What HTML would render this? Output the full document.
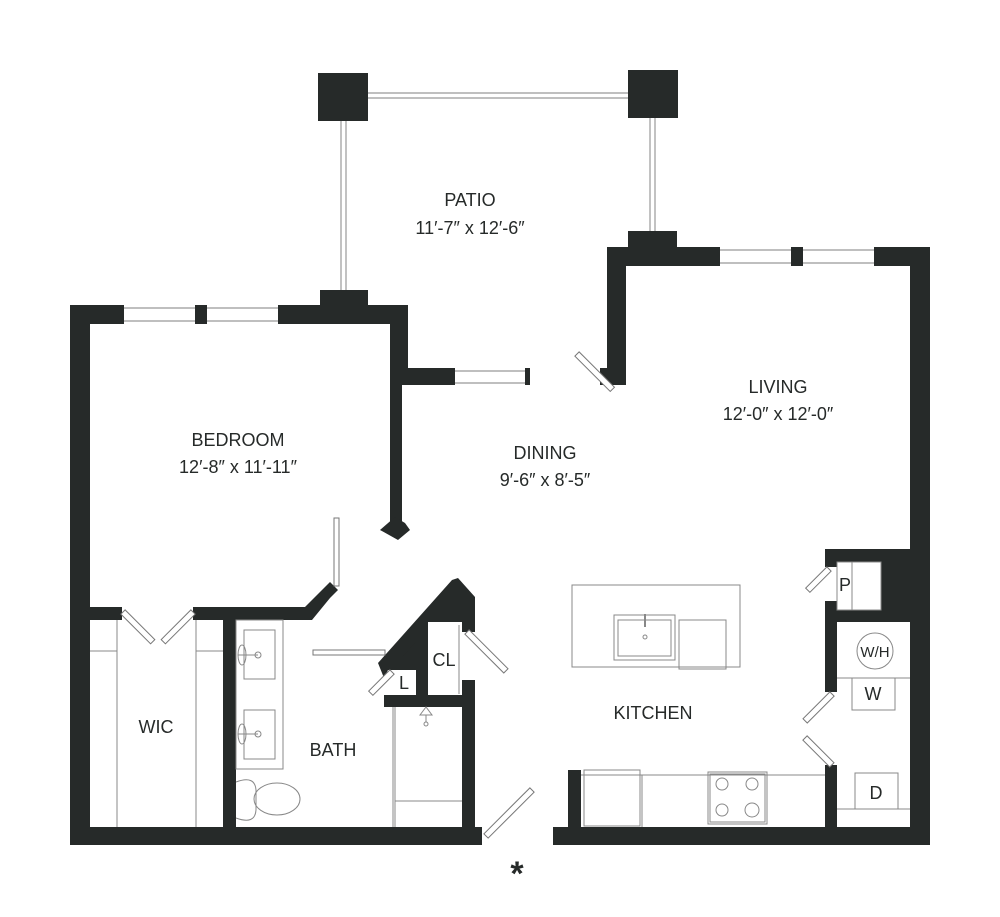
<!DOCTYPE html>
<html><head><meta charset="utf-8"><style>
html,body{margin:0;padding:0;background:#fff;width:1000px;height:917px;overflow:hidden}
svg{display:block}
text{font-family:"Liberation Sans",sans-serif;fill:#262a29;text-anchor:middle}
</style></head><body>
<svg width="1000" height="917" viewBox="0 0 1000 917" xmlns="http://www.w3.org/2000/svg">
<g fill="#262a29">
<rect x="318" y="73" width="50" height="48"/>
<rect x="628" y="70" width="50" height="48"/>
<rect x="70" y="305" width="54" height="19"/>
<rect x="195" y="305" width="12" height="19"/>
<rect x="278" y="305" width="130" height="19"/>
<rect x="320" y="290" width="48" height="16"/>
<rect x="70" y="305" width="20" height="540"/>
<rect x="70" y="827" width="412" height="18"/>
<rect x="390" y="305" width="18" height="80"/>
<rect x="390" y="368" width="65" height="17"/>
<rect x="525" y="368" width="5" height="17"/>
<rect x="390" y="385" width="12" height="142"/>
<polygon points="380,530 395,517 405,523 410,530 398,540"/>
<rect x="70" y="607" width="52" height="13"/>
<polygon points="193,607 305,607 322,590 330,582 338,590 330,598 312,620 193,620"/>
<rect x="223" y="607" width="13" height="225"/>
<polygon points="378,663 452,580 458,578 475,597 475,632 462,632 462,622 428,622 428,695 416,695 416,670 388,670 384,678"/>
<polygon points="402,657 416,657 416,642"/>
<rect x="384" y="695" width="91" height="12"/>
<rect x="462" y="680" width="13" height="165"/>
<rect x="553" y="827" width="377" height="18"/>
<rect x="568" y="770" width="13" height="60"/>
<rect x="910" y="247" width="20" height="598"/>
<rect x="607" y="247" width="113" height="19"/>
<rect x="628" y="231" width="49" height="17"/>
<rect x="791" y="247" width="12" height="19"/>
<rect x="874" y="247" width="56" height="19"/>
<rect x="607" y="247" width="19" height="138"/>
<rect x="600" y="368" width="26" height="17"/>
<rect x="825" y="549" width="90" height="13"/>
<rect x="825" y="549" width="12" height="18"/>
<rect x="881" y="560" width="32" height="52"/>
<rect x="825" y="601" width="12" height="91"/>
<rect x="825" y="610" width="90" height="12"/>
<rect x="825" y="765" width="12" height="65"/>
</g>
<g fill="none" stroke="#999" stroke-width="1.2">
<line x1="368" y1="93" x2="628" y2="93"/><line x1="368" y1="98" x2="628" y2="98"/>
<line x1="341" y1="121" x2="341" y2="290"/><line x1="346" y1="121" x2="346" y2="290"/>
<line x1="650" y1="118" x2="650" y2="231"/><line x1="655" y1="118" x2="655" y2="231"/>
<line x1="124" y1="308" x2="195" y2="308"/><line x1="124" y1="321" x2="195" y2="321"/>
<line x1="207" y1="308" x2="278" y2="308"/><line x1="207" y1="321" x2="278" y2="321"/>
<line x1="720" y1="250" x2="791" y2="250"/><line x1="720" y1="263" x2="791" y2="263"/>
<line x1="803" y1="250" x2="874" y2="250"/><line x1="803" y1="263" x2="874" y2="263"/>
<line x1="455" y1="371" x2="525" y2="371"/><line x1="455" y1="383" x2="525" y2="383"/>
</g>
<g fill="#fff" stroke="#777" stroke-width="1">
<rect x="334" y="518" width="5" height="68"/>
<rect x="-3" y="0" width="6" height="50" transform="translate(577,354) rotate(-45)"/>
<rect x="-3" y="0" width="6" height="42" transform="translate(123,612) rotate(-45)"/>
<rect x="-3" y="0" width="6" height="42" transform="translate(193,612) rotate(45)"/>
<rect x="313" y="650" width="72" height="5"/>
<rect x="-3" y="0" width="6" height="30" transform="translate(392,672) rotate(45)"/>
<rect x="-3" y="0" width="6" height="55" transform="translate(467,632) rotate(-45)"/>
<rect x="-3" y="0" width="6" height="65" transform="translate(532,790) rotate(45)"/>
<rect x="-3" y="0" width="6" height="30" transform="translate(829,569) rotate(45)"/>
<rect x="-3" y="0" width="6" height="38" transform="translate(832,694) rotate(45)"/>
<rect x="-3" y="0" width="6" height="38" transform="translate(805,738) rotate(-45)"/>
</g>
<g fill="none" stroke="#888" stroke-width="1">
<line x1="117" y1="620" x2="117" y2="827"/><line x1="196" y1="620" x2="196" y2="827"/>
<line x1="90" y1="651" x2="117" y2="651"/><line x1="196" y1="651" x2="223" y2="651"/>
<rect x="236" y="620" width="47" height="149"/>
<rect x="244" y="630" width="31" height="49"/><rect x="244" y="710" width="31" height="49"/>
<line x1="238" y1="655" x2="258" y2="655"/><circle cx="258" cy="655" r="3"/>
<line x1="238" y1="734" x2="258" y2="734"/><circle cx="258" cy="734" r="3"/>
<ellipse cx="242" cy="655" rx="4" ry="10"/><ellipse cx="242" cy="734" rx="4" ry="10"/>
<ellipse cx="277" cy="799" rx="23" ry="16"/>
<path d="M236 782 Q255 775 256 790 L256 810 Q255 825 236 818"/>
<line x1="393" y1="707" x2="393" y2="827"/><line x1="395" y1="707" x2="395" y2="827"/>
<line x1="395" y1="801" x2="462" y2="801"/>
<path d="M426 707 L420 715 L432 715 Z M426 715 L426 722"/><circle cx="426" cy="724" r="2"/>
<line x1="459" y1="625" x2="459" y2="694"/>
<rect x="572" y="585" width="168" height="82"/>
<rect x="614" y="615" width="61" height="45"/><rect x="618" y="620" width="53" height="36"/>
<circle cx="645" cy="637" r="2"/><line x1="645" y1="614" x2="645" y2="627" stroke-width="2"/>
<rect x="679" y="620" width="47" height="49"/>
<line x1="581" y1="775" x2="825" y2="775"/>
<rect x="584" y="770" width="56" height="56"/>
<line x1="642" y1="775" x2="642" y2="827"/>
<rect x="708" y="772" width="59" height="52"/>
<rect x="710" y="774" width="55" height="48"/>
<circle cx="722" cy="784" r="6"/><circle cx="752" cy="784" r="6"/>
<circle cx="722" cy="810" r="6"/><circle cx="752" cy="810" r="7"/>
<line x1="852" y1="562" x2="852" y2="610"/><rect x="837" y="562" width="44" height="48"/>
<line x1="837" y1="678" x2="910" y2="678"/>
<rect x="852" y="678" width="43" height="32"/>
<circle cx="875" cy="651" r="18"/>
<rect x="855" y="773" width="43" height="36"/>
<line x1="837" y1="809" x2="910" y2="809"/>
</g>
<g font-size="18">
<text x="470" y="206">PATIO</text>
<text x="470" y="234">11′-7″ x 12′-6″</text>
<text x="778" y="393">LIVING</text>
<text x="778" y="420">12′-0″ x 12′-0″</text>
<text x="238" y="446">BEDROOM</text>
<text x="238" y="473">12′-8″ x 11′-11″</text>
<text x="545" y="459">DINING</text>
<text x="545" y="486">9′-6″ x 8′-5″</text>
<text x="653" y="719">KITCHEN</text>
<text x="156" y="733">WIC</text>
<text x="333" y="756">BATH</text>
<text x="444" y="666">CL</text>
<text x="404" y="689">L</text>
<text x="845" y="591">P</text>
<text x="875" y="657" font-size="15">W/H</text>
<text x="873" y="700">W</text>
<text x="876" y="799">D</text>
<text x="517" y="885" font-size="34" font-weight="bold">*</text>
</g>
</svg>
</body></html>
